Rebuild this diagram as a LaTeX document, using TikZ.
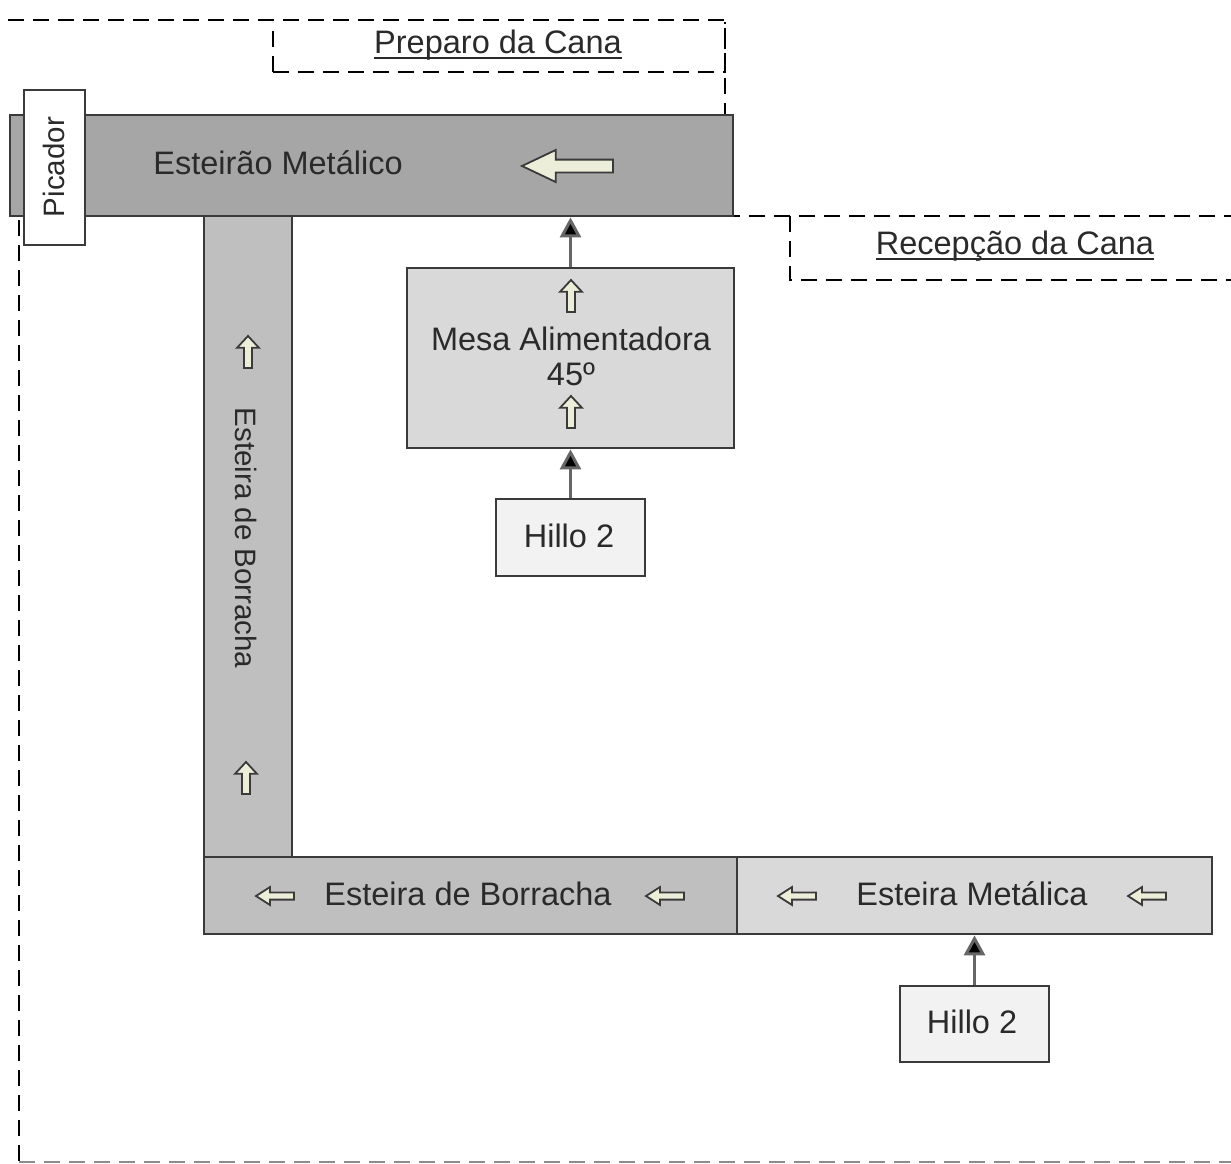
\documentclass[tikz,border=0pt]{standalone}
\usepackage{fontspec}
\setmainfont{Liberation Sans}
\usetikzlibrary{arrows.meta}
\definecolor{cdark}{HTML}{A6A6A6}
\definecolor{cmid}{HTML}{BFBFBF}
\definecolor{clight}{HTML}{D9D9D9}
\definecolor{cpale}{HTML}{F2F2F2}
\definecolor{ccream}{RGB}{236,238,218}
\definecolor{cborder}{HTML}{3A3A3A}
\definecolor{ctext}{HTML}{2A2A2A}
\newcommand\ULine[1]{\setbox0\hbox{#1}\rlap{\raisebox{-6pt}{\rule{\wd0}{2pt}}}\box0}
\tikzset{
  box/.style={draw=cborder, line width=2.8pt, inner sep=0pt, rectangle},
  lbl/.style={text=ctext, inner sep=0pt, font=\fontsize{32.5}{38}\selectfont},
  blockarr/.style={draw=cborder, fill=ccream, line width=1.8pt, line join=miter},
  region/.style={draw=black, line width=2.8pt, dash pattern=on 16pt off 9pt},
  feed/.style={draw=black!60, line width=3pt, -{Triangle[length=20pt,width=21pt,fill=black]}},
}
\newcommand\LArrowShape[4]{%
  \draw[blockarr] ({#1-#3/2},#2) -- ({#1-#3/2+0.37*#3},{#2-#4/2}) -- ({#1-#3/2+0.37*#3},{#2-0.2*#4})
   -- ({#1+#3/2},{#2-0.2*#4}) -- ({#1+#3/2},{#2+0.2*#4}) -- ({#1-#3/2+0.37*#3},{#2+0.2*#4})
   -- ({#1-#3/2+0.37*#3},{#2+#4/2}) -- cycle;}
\newcommand\UArrowShape[4]{%
  \draw[blockarr] (#1,{#2-#3/2}) -- ({#1+#4/2},{#2-#3/2+0.37*#3}) -- ({#1+0.18*#4},{#2-#3/2+0.37*#3})
   -- ({#1+0.18*#4},{#2+#3/2}) -- ({#1-0.18*#4},{#2+#3/2}) -- ({#1-0.18*#4},{#2-#3/2+0.37*#3})
   -- ({#1-#4/2},{#2-#3/2+0.37*#3}) -- cycle;}
\begin{document}
\begin{tikzpicture}[x=1pt,y=-1pt]
\useasboundingbox (0,0) rectangle (1231,1164);
% regions
\draw[region] (8,20) -- (725,20) -- (725,115);
\draw[region] (1240,216) -- (19,216) -- (19,1162);
\draw[region, draw=black!45] (19,1162) -- (1240,1162);
\draw[region] (273,72) -- (273,22);
\draw[region] (273,72) -- (725,72) -- (725,22);
\draw[region] (790,216) -- (790,280) -- (1240,280);
\node[lbl] (preparo) at (498,45) {\ULine{Preparo da Cana}};
\node[lbl] (recepcao) at (1015,246) {\ULine{Recepção da Cana}};
% conveyors
\node[box, fill=cdark, minimum width=723pt, minimum height=101pt] (esteirao) at (371.5,165.5) {};
\node[lbl] (esteiraotxt) at (278,163) {Esteirão Metálico};
\LArrowShape{567.5}{166}{91}{32}
\node[box, fill=white, minimum width=61pt, minimum height=155pt] (picador) at (54.5,167.5) {};
\node[lbl, rotate=90, font=\fontsize{29.5}{34}\selectfont] (picadortxt) at (54,167) {Picador};
\node[box, fill=cmid, minimum width=88pt, minimum height=641pt] (borrachaV) at (248,536.5) {};
\node[lbl, rotate=-90, font=\fontsize{29.5}{34}\selectfont] (borrachaVtxt) at (246,538) {Esteira de Borracha};
\UArrowShape{248}{352}{32}{22}
\UArrowShape{246}{778}{32}{22}
\node[box, fill=cmid, minimum width=533pt, minimum height=77pt] (borrachaH) at (470.5,895.5) {};
\node[lbl] (borrachaHtxt) at (468,894) {Esteira de Borracha};
\LArrowShape{275}{896}{38}{18}
\LArrowShape{665}{896}{38}{18}
\node[box, fill=clight, minimum width=475pt, minimum height=77pt] (metalica) at (974.5,895.5) {};
\node[lbl] (metalicatxt) at (972,894) {Esteira Metálica};
\LArrowShape{797}{896}{38}{18}
\LArrowShape{1147}{896}{38}{18}
% feed table
\node[box, fill=clight, minimum width=327pt, minimum height=180pt] (mesa) at (570.5,358) {};
\node[lbl, align=center] (mesatxt) at (571,356) {Mesa Alimentadora\\[-3pt]45º};
\UArrowShape{571}{296}{32}{22}
\UArrowShape{571}{412}{32}{22}
% sources
\node[box, fill=cpale, minimum width=149pt, minimum height=77pt] (hilloA) at (570.5,537.5) {};
\node[lbl] (hilloAtxt) at (569,536) {Hillo 2};
\node[box, fill=cpale, minimum width=149pt, minimum height=76pt] (hilloB) at (974.5,1024) {};
\node[lbl] (hilloBtxt) at (972,1022) {Hillo 2};
% connectors
\draw[feed] (hilloA.north) -- (mesa.south);
\draw[feed] (mesa.north) -- (mesa.north |- esteirao.south);
\draw[feed] (hilloB.north) -- (hilloB.north |- metalica.south);
\end{tikzpicture}
\end{document}
